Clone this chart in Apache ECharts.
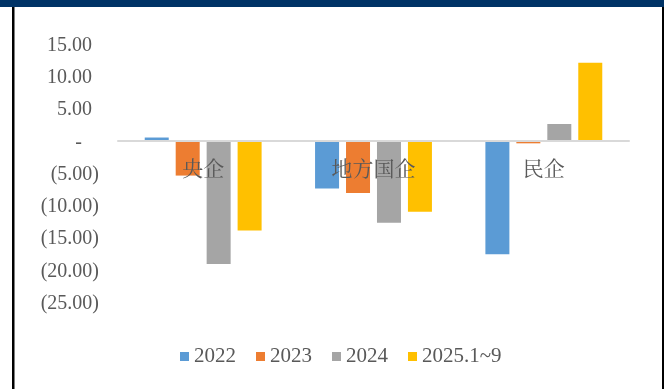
<!DOCTYPE html>
<html>
<head>
<meta charset="utf-8">
<script src="https://cdn.jsdelivr.net/npm/echarts@6/dist/echarts.min.js"></script>
<style>
  html, body { margin: 0; padding: 0; background: #fff; }
  #chart { width: 664px; height: 389px; }
</style>
</head>
<body>
<div id="chart"></div>
<script>
// Categories and yearly changes per enterprise type
const categories = ['央企', '地方国企', '民企'];
const seriesNames = ['2022', '2023', '2024', '2025.1~9'];
const s2022 = [0.5, -7.4, -17.6];
const s2023 = [-5.4, -8.1, -0.4];
const s2024 = [-19.1, -12.7, 2.6];
const s2025 = [-13.9, -11.0, 12.1];
const yMin = -25, yMax = 15, yStep = 5;

const colors = ['#5B9BD5', '#ED7D31', '#A5A5A5', '#FFC000'];
const serif = "'Liberation Serif', 'Times New Roman', 'Noto Serif CJK SC', 'Noto Sans CJK SC', serif";
const textGray = '#595959';

const gridTop = 44, gridBottom = 87, chartH = 389;

// Accounting-style tick labels: 15.00 / - / (5.00)
function fmtTick(v) {
  if (v > 0) return '{n|' + v.toFixed(2) + '}{p|}';
  if (v < 0) return '{n|(' + (-v).toFixed(2) + ')}';
  return '{n|-}{z|}';
}

// Category names sit just under the zero line, inside the plot
const plotH = chartH - gridTop - gridBottom;
const zeroY = gridTop + plotH * yMax / (yMax - yMin);
const labelTop = zeroY + 19;
const catLabelMargin = labelTop - (chartH - gridBottom);

const chart = echarts.init(document.getElementById('chart'), null, { renderer: 'canvas' });
const values = [s2022, s2023, s2024, s2025];

chart.setOption({
  animation: false,
  color: colors,
  grid: { left: 118, right: 35, top: gridTop, bottom: gridBottom, containLabel: false },
  legend: {
    left: 175,
    top: 341,
    itemWidth: 9,
    itemHeight: 9,
    itemGap: 20,
    icon: 'rect',
    textStyle: { fontFamily: serif, fontSize: 21, color: textGray },
    data: seriesNames
  },
  xAxis: {
    type: 'category',
    data: categories,
    z: 10,
    axisLine: { onZero: true, lineStyle: { color: '#D9D9D9', width: 2 } },
    axisTick: { show: false },
    axisLabel: { margin: catLabelMargin, fontFamily: serif, fontSize: 21, color: textGray }
  },
  yAxis: {
    type: 'value',
    min: yMin,
    max: yMax,
    interval: yStep,
    axisLine: { show: false },
    axisTick: { show: false },
    splitLine: { show: false },
    axisLabel: {
      margin: 19,
      formatter: fmtTick,
      rich: {
        n: { fontFamily: serif, fontSize: 20, color: textGray, padding: [3, 0, 0, 0] },
        p: { width: 7 },
        z: { width: 17 }
      }
    }
  },
  series: seriesNames.map((name, i) => ({
    name: name,
    type: 'bar',
    data: values[i],
    barWidth: 24,
    barGap: '29%',
    itemStyle: { color: colors[i] }
  })),
  graphic: [
    { type: 'rect', shape: { x: 0, y: 0, width: 664, height: 7 }, style: { fill: '#003366' }, z: 100 },
    { type: 'rect', shape: { x: 12, y: 0, width: 2.5, height: 389 }, style: { fill: '#000' }, z: 99 },
    { type: 'rect', shape: { x: 662, y: 0, width: 2, height: 389 }, style: { fill: '#000' }, z: 99 }
  ]
});
</script>
</body>
</html>
